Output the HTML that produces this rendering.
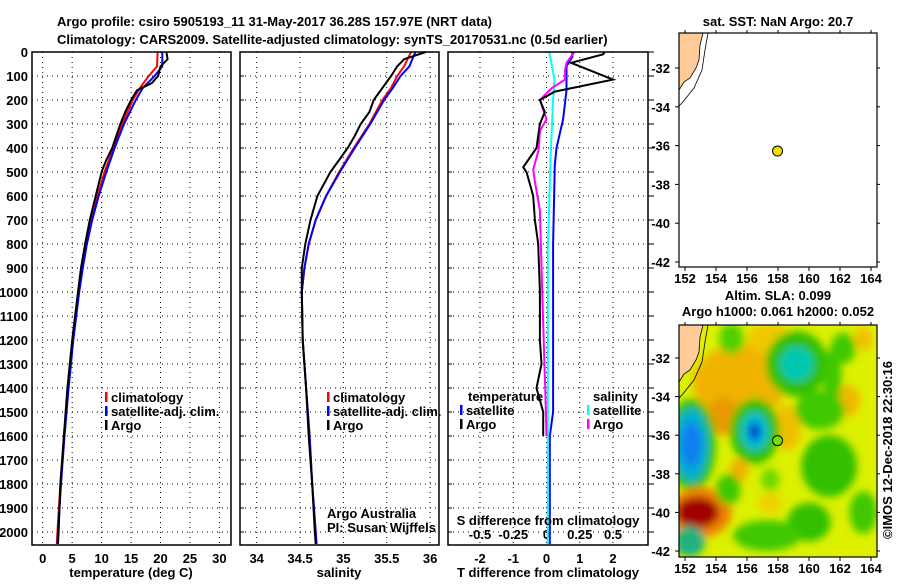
<!DOCTYPE html>
<html><head><meta charset="utf-8"><style>
body{margin:0;background:#fff;}
svg text{font-family:"Liberation Sans",sans-serif;font-weight:bold;font-size:13px;fill:#000;}
</style></head><body>
<svg id="s" width="900" height="580" xmlns="http://www.w3.org/2000/svg">
<defs>
<filter id="blur" x="-50%" y="-50%" width="200%" height="200%"><feGaussianBlur stdDeviation="4"/></filter>
<clipPath id="m2clip"><rect x="679" y="325" width="198" height="232"/></clipPath>
<clipPath id="m1clip"><rect x="679" y="33" width="198" height="234"/></clipPath>
</defs>
<text x="57" y="26" font-size="15">Argo profile: csiro 5905193_11 31-May-2017 36.28S 157.97E (NRT data)</text>
<text x="57" y="44" font-size="15">Climatology: CARS2009. Satellite-adjusted climatology: synTS_20170531.nc (0.5d earlier)</text>
<g id="g"></g>
</svg>
<script>
// ---- data (depth in m) ----
const tArgoDepth=[0,30,60,100,130,160,200,250,300,350,400,450,480,500,600,700,800,900,1000,1200,1400,1600,1800,2000,2050];
const tArgo=[21,21.2,20,19.6,18.5,16,15,14,13.2,12.5,11.8,10.8,10.3,10,9,8,7.2,6.5,6,5,4.2,3.6,3,2.7,2.6];
const climDepth=[0,60,100,150,200,300,400,500,600,700,800,900,1000,1200,1400,1600,1800,2000,2050];
const tClim=[19.5,19.4,18,16.5,15.3,13.5,12,10.5,9.3,8.3,7.4,6.7,6.1,5.1,4.3,3.6,3.0,2.5,2.4];
const tSat=[20.3,20.3,19,17,15.8,13.8,12.2,10.8,9.5,8.4,7.5,6.8,6.2,5.2,4.4,3.7,3.1,2.6,2.5];
const sArgoDepth=[0,30,60,100,150,200,250,300,350,400,450,500,600,700,800,900,1000,1200,1400,1600,1800,2000,2050];
const sArgo=[35.95,35.7,35.62,35.55,35.45,35.35,35.3,35.2,35.13,35.05,34.95,34.85,34.7,34.62,34.56,34.52,34.52,34.53,34.57,34.6,34.64,34.67,34.68];
const sClim=[35.78,35.7,35.62,35.55,35.45,35.3,35.12,34.95,34.8,34.68,34.6,34.55,34.52,34.53,34.57,34.61,34.64,34.68,34.69];
const sSat=[35.83,35.76,35.66,35.57,35.47,35.31,35.13,34.96,34.8,34.68,34.6,34.55,34.52,34.53,34.57,34.61,34.64,34.68,34.69];
const dDepth=[0,10,45,115,165,200,250,300,400,450,480,500,550,600,700,800,1000,1200,1300,1400,1500,1600];
const dTArgo=[1.75,1.7,0.74,2.0,0.25,-0.2,-0.05,-0.2,-0.3,-0.55,-0.7,-0.6,-0.5,-0.4,-0.35,-0.25,-0.2,-0.2,-0.15,-0.3,-0.1,-0.1];
const dSatDepth=[0,20,60,160,280,400,470,800,1500,1600,2050];
const dTSat=[0.77,0.78,0.6,0.6,0.5,0.3,0.25,0.2,0.2,0.1,0.1];
const dSArgoDepth=[0,45,75,115,150,200,280,330,410,490,530,660,1040,1400,1600];
const dSArgo=[0.21,0.15,0.14,0.14,0.04,-0.05,0,-0.05,-0.06,-0.1,-0.09,-0.05,-0.03,-0.01,0.0];
const dSSatDepth=[0,115,200,450,830,2050];
const dSSat=[0.02,0.06,0.05,0.03,0.01,0.01];
const depthTicks=[0,100,200,300,400,500,600,700,800,900,1000,1100,1200,1300,1400,1500,1600,1700,1800,1900,2000];
const tTicks=[0,5,10,15,20,25,30];
const sTicks=[34,34.5,35,35.5,36];
const sTickLabels=["34","34.5","35","35.5","36"];
const dtTicks=[-2,-1,0,1,2];
const dsTicks=[-0.5,-0.25,0,0.25,0.5];
const dsTickLabels=["-0.5","-0.25","0","0.25","0.5"];
const latTicks=[-32,-34,-36,-38,-40,-42];
const lonTicks=[152,154,156,158,160,162,164];

const NS="http://www.w3.org/2000/svg";
const G=document.getElementById('g');
function mk(tag,at,parent){const e=document.createElementNS(NS,tag);for(const k in at)e.setAttribute(k,at[k]);(parent||G).appendChild(e);return e;}
const plotTop=52,plotBot=545;
const yD=d=>plotTop+d*0.24;
function panel(x0,x1,name){
  const r=mk('rect',{x:x0,y:plotTop,width:x1-x0,height:plotBot-plotTop,fill:'none',stroke:'#000','stroke-width':1.5});
  
  
}
function vgrid(x){mk('line',{x1:x,x2:x,y1:plotTop,y2:plotBot,stroke:'#000','stroke-dasharray':'1,4','stroke-width':1});}
function hgrid(x0,x1,y){mk('line',{x1:x0,x2:x1,y1:y,y2:y,stroke:'#000','stroke-dasharray':'1,4','stroke-width':1});}
function drawLine(xs,ds,xf,color,name,w){
  let p='';for(let i=0;i<xs.length;i++)p+=(i?'L':'M')+xf(xs[i]).toFixed(1)+','+yD(ds[i]).toFixed(1);
  const e=mk('path',{d:p,fill:'none',stroke:color,'stroke-width':w||2});
  
  
}
function txt(x,y,s,anchor,size,name,extra){
  const e=mk('text',Object.assign({x:x,y:y,'text-anchor':anchor||'start'},size?{'font-size':size}:{},extra||{}));
  e.textContent=s;
  
  
  return e;
}
// Panel 1 temperature
const xT=v=>42.7+v*5.89;
tTicks.forEach(v=>{vgrid(xT(v));txt(xT(v),563,String(v),'middle',13,'temp-tick-label');});
depthTicks.forEach(d=>{hgrid(32,231,yD(d));txt(28,yD(d)+5,String(d),'end',13,'depth-tick-label');
  mk('line',{x1:240,x2:244,y1:yD(d),y2:yD(d),stroke:'#000'});mk('line',{x1:448,x2:452,y1:yD(d),y2:yD(d),stroke:'#000'});mk('line',{x1:648,x2:654,y1:yD(d),y2:yD(d),stroke:'#000'});});
drawLine(tClim,climDepth,xT,'#ff0000','temp-climatology-line');
drawLine(tSat,climDepth,xT,'#0000ff','temp-satellite-line');
drawLine(tArgo,tArgoDepth,xT,'#000','temp-argo-line');
panel(32,231,'temperature-panel');
txt(131,577,'temperature (deg C)','middle',13,'temp-x-axis-title');
// Panel 2 salinity
const xS=v=>256.7+(v-34)*86.7;
sTicks.forEach((v,i)=>{vgrid(xS(v));txt(xS(v),563,sTickLabels[i],'middle',13,'sal-tick-label');});
depthTicks.forEach(d=>hgrid(240,439,yD(d)));
drawLine(sClim,climDepth,xS,'#ff0000','sal-climatology-line');
drawLine(sSat,climDepth,xS,'#0000ff','sal-satellite-line');
drawLine(sArgo,sArgoDepth,xS,'#000','sal-argo-line');
panel(240,439,'salinity-panel');
txt(339,577,'salinity','middle',13,'sal-x-axis-title');
// legends
function leg(x,y,c,label,name){mk('rect',{x:x,y:y-10,width:2.5,height:10,fill:c});txt(x+6,y,label,'start',13,name);}
[[105,'ff0000','climatology'],[105,'0000ff','satellite-adj. clim.'],[105,'000000','Argo']].forEach((l,i)=>leg(l[0],402+i*14,'#'+l[1],l[2],'temp-legend-entry'));
[[327,'ff0000','climatology'],[327,'0000ff','satellite-adj. clim.'],[327,'000000','Argo']].forEach((l,i)=>leg(l[0],402+i*14,'#'+l[1],l[2],'sal-legend-entry'));
txt(327,518,'Argo Australia','start',12,'credit-line-1',{'font-weight':'normal'});
txt(327,532,'PI: Susan Wijffels','start',12,'credit-line-2',{'font-weight':'normal'});
// Panel 3 differences
const xDT=v=>546.5+v*33.25;
const xDS=v=>546.5+v*4*33.25;
dtTicks.forEach(v=>{vgrid(xDT(v));txt(xDT(v),563,String(v),'middle',13,'dt-tick-label');});
dsTicks.forEach((v,i)=>txt(xDS(v),539,dsTickLabels[i],'middle',13,'ds-tick-label'));
depthTicks.forEach(d=>hgrid(448,648,yD(d)));
drawLine(dTSat,dSatDepth,xDT,'#0000ff','dt-satellite-line');
drawLine(dSSat,dSSatDepth,xDS,'#00ffff','ds-satellite-line');
drawLine(dSArgo,dSArgoDepth,xDS,'#ff00ff','ds-argo-line');
drawLine(dTArgo,dDepth,xDT,'#000','dt-argo-line');
panel(448,648,'difference-panel');
txt(548,525,'S difference from climatology','middle',13,'ds-axis-title');
txt(548,577,'T difference from climatology','middle',13,'dt-axis-title');
txt(468,401,'temperature','start',13,'dt-legend-title');
leg(460,415,'#0000ff','satellite','dt-legend-entry');
leg(460,429,'#000','Argo','dt-legend-entry');
txt(593,401,'salinity','start',13,'ds-legend-title');
leg(587,415,'#00ffff','satellite','ds-legend-entry');
leg(587,429,'#ff00ff','Argo','ds-legend-entry');
// Maps
const lonX=v=>685+(v-152)*15.5;
function mapFrame(y0,y1,latY,name){
  lonTicks.forEach(v=>{mk('line',{x1:lonX(v),x2:lonX(v),y1:y1,y2:y1+4,stroke:'#000'});mk('line',{x1:lonX(v),x2:lonX(v),y1:y0,y2:y0-3,stroke:'#000'});txt(lonX(v),y1+16,String(v),'middle',13,'lon-tick-label');});
  latTicks.forEach(v=>{mk('line',{x1:679,x2:675,y1:latY(v),y2:latY(v),stroke:'#000'});mk('line',{x1:877,x2:880,y1:latY(v),y2:latY(v),stroke:'#000'});txt(670,latY(v)+5,String(v),'end',13,'lat-tick-label');});
  const r=mk('rect',{x:679,y:y0,width:198,height:y1-y0,fill:'none',stroke:'#000','stroke-width':1.2});
  
  
}
// Map 1
const lat1=v=>68+(-32-v)*19.4;
mk('rect',{x:679,y:33,width:198,height:234,fill:'#fff'});
const land1=mk('path',{d:`M679,33 L703,33 L700,45 L699,60 L696,68 L690,78 L684,82 L679,90 Z`,fill:'#ffcc99',stroke:'#000','stroke-width':0.8,'clip-path':'url(#m1clip)'});


mk('path',{d:'M708,33 L705,50 L702,70 L694,88 L682,103 L679,106',fill:'none',stroke:'#000','stroke-width':0.8});
const c1=mk('circle',{cx:lonX(157.97),cy:lat1(-36.28),r:5,fill:'#f0e000',stroke:'#000'});


mapFrame(33,267,lat1,'sst-map');
txt(778,26,'sat. SST: NaN Argo: 20.7','middle',13,'sst-map-title');
// Map 2
const lat2=v=>358+(-32-v)*19.3;
const mg=mk('g',{'clip-path':'url(#m2clip)'});
mk('rect',{x:679,y:325,width:198,height:232,fill:'#dcf000'},mg);
const bl=mk('g',{filter:'url(#blur)'},mg);
const blobs=[
 [155.5,-33.3,3,2,'#f0b400'],[154.5,-35,1,1,'#e89a00'],[158.6,-35.6,0.9,1.2,'#f0c000'],[157.5,-31,1.5,0.8,'#f0c800'],[162.5,-34.2,0.8,0.8,'#f0b800'],[155.5,-37.8,0.6,0.6,'#f0b000'],[163.5,-31,0.6,0.6,'#f0c000'],
 [159.2,-32.3,2,1.7,'#30c000'],[159.2,-32.3,1.1,0.9,'#00c8b0'],
 [156.5,-35.8,1.6,1.7,'#30c000'],[156.5,-35.8,0.9,1,'#00c0d0'],[156.5,-35.8,0.4,0.5,'#0040d0'],
 [152.4,-36.5,1.6,2.4,'#30c000'],[152.4,-36.5,1.1,1.9,'#00b0d0'],[152.4,-36.5,0.7,1.2,'#1080f0'],
 [153,-40,2,1.3,'#f08000'],[152.8,-40,1.4,0.8,'#a00000'],[152.3,-41.5,1,0.8,'#20b080'],
 [161.3,-37.6,1.8,1.6,'#30c000'],[160.7,-34.7,1.6,1,'#40c800'],[161.5,-33,0.6,1.5,'#40c800'],[162.2,-31.5,0.8,0.8,'#40c800'],
 [160,-40.5,1.4,1,'#30c000'],[157.3,-41.2,2.2,0.8,'#40c800'],[154.8,-38.8,0.8,0.8,'#40c800'],[163.5,-40,0.9,1.1,'#40c800'],[157.5,-38.3,0.6,0.6,'#70d800'],[155,-31,0.8,0.8,'#50d000'],[157.5,-39.5,0.8,0.5,'#f0d000']];
blobs.forEach(b=>mk('ellipse',{cx:lonX(b[0]),cy:lat2(b[1]),rx:b[2]*15.5,ry:b[3]*19.3,fill:b[4]},bl));
const land2=mk('path',{d:`M679,325 L703,325 L700,337 L699,352 L696,360 L690,370 L684,374 L679,382 Z`,fill:'#ffcc99',stroke:'#000','stroke-width':0.8},mg);


mk('path',{d:'M708,325 L705,342 L702,362 L694,380 L682,395 L679,398',fill:'none',stroke:'#000','stroke-width':0.8},mg);
const c2=mk('circle',{cx:lonX(157.97),cy:lat2(-36.28),r:5,fill:'#70e000',stroke:'#000'});


mapFrame(325,557,lat2,'sla-map');
txt(778,300,'Altim. SLA: 0.099','middle',13,'sla-map-title');
txt(778,316,'Argo h1000: 0.061 h2000: 0.052','middle',13,'sla-map-subtitle');
txt(892,450,'©IMOS 12-Dec-2018 22:30:16','middle',12,'timestamp',{transform:'rotate(-90 892 450)','font-weight':'normal'});
</script>
</body></html>
